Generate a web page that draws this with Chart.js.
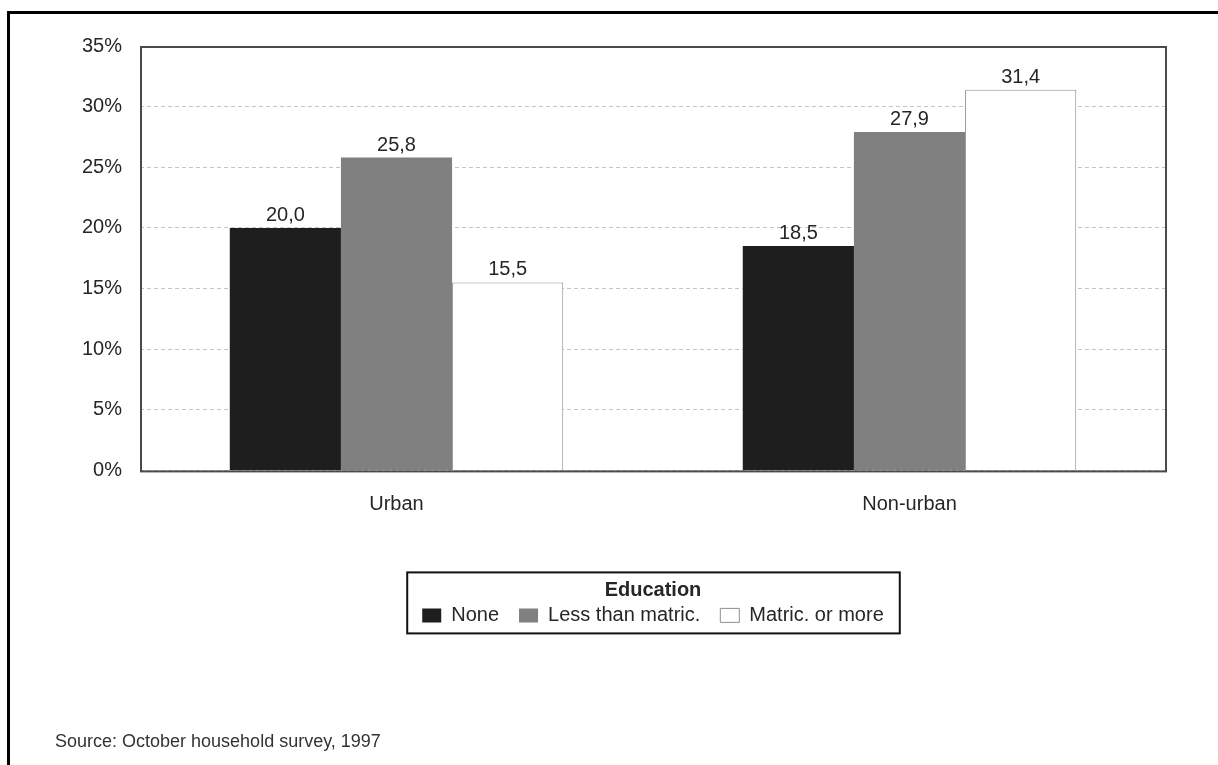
<!DOCTYPE html>
<html>
<head>
<meta charset="utf-8">
<title>Education by area</title>
<script src="https://cdn.jsdelivr.net/npm/chart.js@4.4.1/dist/chart.umd.min.js"></script>
<style>
  html, body { margin: 0; padding: 0; background: #fff; overflow: hidden; }
  #frame {
    position: absolute; left: 7px; top: 11px;
    width: 1400px; height: 900px;
    border: 3px solid #000;
  }
  #chart { position: absolute; left: 0; top: 0; }
</style>
</head>
<body>
<div id="frame"></div>
<canvas id="chart" width="1218" height="765"></canvas>
<script>
// Categories and series (percent of people in each group)
const areas = ['Urban', 'Non-urban'];
const seriesNames = ['None', 'Less than matric.', 'Matric. or more'];
const noneValues = [20.0, 18.5];
const lessThanMatricValues = [25.8, 27.9];
const matricOrMoreValues = [15.5, 31.4];
const yTicks = [0, 5, 10, 15, 20, 25, 30, 35];
const legendTitle = 'Education';
const sourceNote = 'Source: October household survey, 1997';

const FONT = "'Liberation Sans', Arial, Helvetica, sans-serif";
const TEXT = '#262626';

// Decimal comma labels above each bar
const valueLabels = {
  id: 'valueLabels',
  afterDatasetsDraw(chart) {
    const ctx = chart.ctx;
    ctx.save();
    ctx.font = '20px ' + FONT;
    ctx.fillStyle = TEXT;
    ctx.textAlign = 'center';
    ctx.textBaseline = 'alphabetic';
    chart.data.datasets.forEach((ds, di) => {
      const meta = chart.getDatasetMeta(di);
      meta.data.forEach((bar, i) => {
        const txt = ds.data[i].toFixed(1).replace('.', ',');
        ctx.fillText(txt, bar.x, bar.y - 7);
      });
    });
    ctx.restore();
  }
};

// Frame around the plot area
const plotFrame = {
  id: 'plotFrame',
  afterDatasetsDraw(chart) {
    const a = chart.chartArea;
    const ctx = chart.ctx;
    ctx.save();
    ctx.strokeStyle = '#4a4a4a';
    ctx.lineWidth = 2;
    ctx.strokeRect(a.left + 1, a.top + 1, a.right - a.left - 1, a.bottom - a.top);
    ctx.restore();
  }
};

// Box around the legend
const legendFrame = {
  id: 'legendFrame',
  afterDraw(chart) {
    const lg = chart.legend;
    if (!lg || !lg.legendHitBoxes.length) return;
    const hb = lg.legendHitBoxes;
    const first = hb[0], last = hb[hb.length - 1];
    const left = first.left - 15;
    const right = last.left + last.width + 16;
    const top = lg.top;
    const bottom = lg.top + 61;
    const ctx = chart.ctx;
    ctx.save();
    ctx.strokeStyle = '#111';
    ctx.lineWidth = 2;
    ctx.strokeRect(left, top, right - left, bottom - top);
    ctx.restore();
  }
};

new Chart(document.getElementById('chart'), {
  type: 'bar',
  data: {
    labels: areas,
    datasets: [
      { label: seriesNames[0], data: noneValues, backgroundColor: '#1e1e1e', borderWidth: 0 },
      { label: seriesNames[1], data: lessThanMatricValues, backgroundColor: '#808080', borderWidth: 0 },
      { label: seriesNames[2], data: matricOrMoreValues, backgroundColor: '#ffffff', borderColor: '#8f8f8f', borderWidth: 1 }
    ]
  },
  options: {
    responsive: false,
    animation: false,
    devicePixelRatio: 1,
    layout: { padding: { left: 55, right: 52, top: 46, bottom: 0 } },
    datasets: { bar: { barPercentage: 1, categoryPercentage: 0.65 } },
    scales: {
      x: {
        grid: { display: false, drawTicks: false },
        border: { display: false },
        ticks: { color: TEXT, font: { family: FONT, size: 20 }, padding: 22 },
        afterFit(scale) { scale.height = 102; }
      },
      y: {
        min: 0, max: 35,
        afterBuildTicks(scale) { scale.ticks = yTicks.map(v => ({ value: v })); },
        grid: { color: '#c4c4c4', lineWidth: 1, drawTicks: false },
        border: { display: false, dash: [4, 3] },
        ticks: {
          color: TEXT, font: { family: FONT, size: 20 }, padding: 18,
          callback: v => v + '%'
        },
        afterFit(scale) { scale.width = 85; }
      }
    },
    plugins: {
      tooltip: { enabled: false },
      legend: {
        position: 'bottom',
        fullSize: false,
        title: {
          display: true, text: legendTitle, color: TEXT,
          font: { family: FONT, size: 20, weight: 'bold' },
          padding: { top: 8, bottom: -19 }
        },
        labels: {
          color: TEXT,
          font: { family: FONT, size: 20 },
          boxWidth: 19, boxHeight: 14, padding: 20
        }
      },
      subtitle: {
        display: true, text: sourceNote, position: 'bottom', align: 'start',
        color: '#333', font: { family: FONT, size: 18, weight: 'normal' },
        padding: { top: 96, bottom: 12 }
      }
    }
  },
  plugins: [valueLabels, plotFrame, legendFrame]
});
</script>
</body>
</html>
